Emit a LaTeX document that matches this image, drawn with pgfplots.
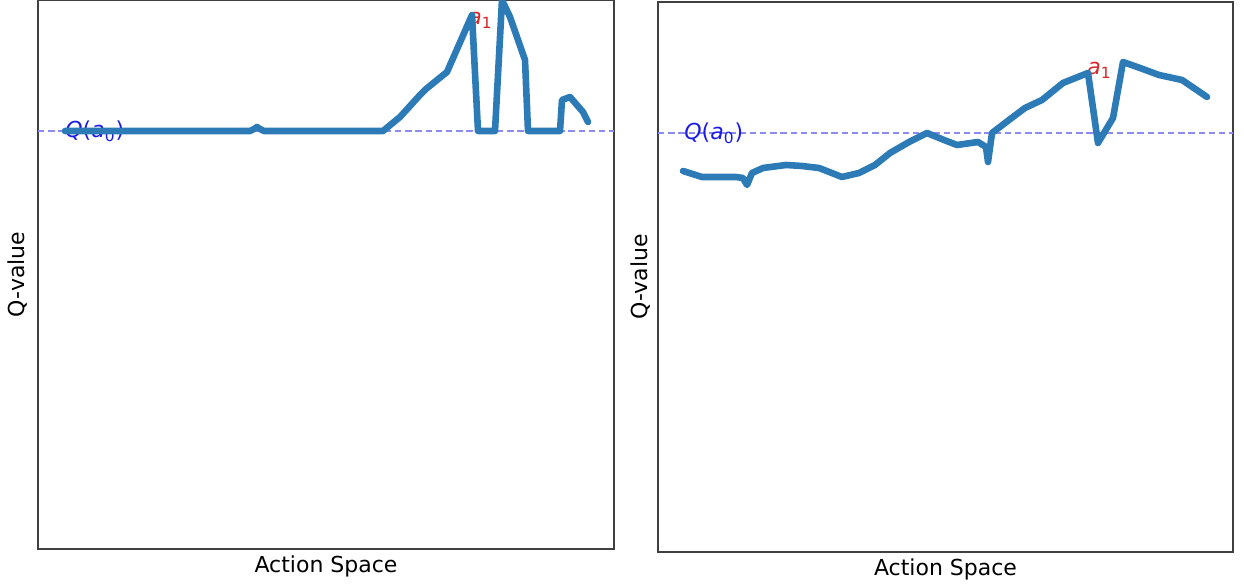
\documentclass[border=0pt]{standalone}
\usepackage{pgfplots}
\pgfplotsset{compat=1.18}
\usepackage{fontspec}
\setmainfont{DejaVu Sans}
\definecolor{qblue}{HTML}{2C7BB6}
\definecolor{dashc}{HTML}{8C8CF0}
\definecolor{lblblue}{HTML}{1A1AE6}
\definecolor{lblred}{HTML}{D62728}
\pgfplotsset{
  qax/.style={
    scale only axis,
    anchor=south west,
    xtick=\empty, ytick=\empty,
    axis line style={black!75, line width=0.7pt},
    ymin=0,
    label style={font=\fontsize{11}{13}\selectfont},
    xlabel={Action Space},
    ylabel={Q-value},
    xlabel style={at={(axis description cs:0.5,0)}, anchor=center, yshift=-8.5pt},
  },
  curve/.style={qblue, line width=3.3pt, line join=round, line cap=round},
  dline/.style={dashc, line width=1pt, dash pattern=on 3.2pt off 1.9pt},
}
\begin{document}
\begin{tikzpicture}[x=1pt,y=1pt]
\useasboundingbox (0,0) rectangle (622,294);
% left panel
\begin{axis}[qax, at={(19pt,19.5pt)}, width=288pt, height=274.5pt,
  xmin=38, xmax=614, ymax=549,
  ylabel style={at={(axis description cs:-0.035,0.5)}, anchor=center}]
\addplot[dline] coordinates {(38,418) (614,418)};
\node[anchor=west, text=lblblue, font=\fontsize{11}{13}\selectfont, inner sep=0pt] at (axis cs:65,418) {\textit{Q}(\textit{a}\textsubscript{0})};
\node[anchor=base west, text=lblred, font=\fontsize{11}{13}\selectfont, inner sep=0pt] at (axis cs:468,524) {\textit{a}\textsubscript{1}};
\addplot[curve] coordinates {
(65,418) (250,418) (254,420) (257,422) (260,420) (264,418) (383,418)
(400,432) (420,454) (426,460) (447,477) (472,534) (478,418) (495,418)
(502,549) (510,532) (525,489) (528,418) (560,418) (562,449) (570,452)
(583,437) (588,427)};
\end{axis}
% right panel
\begin{axis}[qax, at={(329pt,18pt)}, width=287.5pt, height=275pt,
  xmin=658, xmax=1233, ymax=550,
  ylabel style={at={(axis description cs:-0.031,0.5)}, anchor=center}]
\addplot[dline] coordinates {(658,419) (1233,419)};
\node[anchor=west, text=lblblue, font=\fontsize{11}{13}\selectfont, inner sep=0pt] at (axis cs:684,419) {\textit{Q}(\textit{a}\textsubscript{0})};
\node[anchor=base west, text=lblred, font=\fontsize{11}{13}\selectfont, inner sep=0pt] at (axis cs:1087,477) {\textit{a}\textsubscript{1}};
\addplot[curve] coordinates {
(683,381) (702,375) (736,375) (743,374) (747,367) (752,379) (763,384)
(786,387) (802,386) (819,384) (842,375) (859,379) (875,387) (890,399)
(909,410) (927,419) (944,412) (957,407) (978,410) (986,405) (988,390)
(992,419) (1009,432) (1025,444) (1042,452) (1063,469) (1088,479)
(1098,409) (1113,434) (1123,490) (1140,484) (1159,477) (1182,472) (1207,455)};
\end{axis}
\end{tikzpicture}
\end{document}
